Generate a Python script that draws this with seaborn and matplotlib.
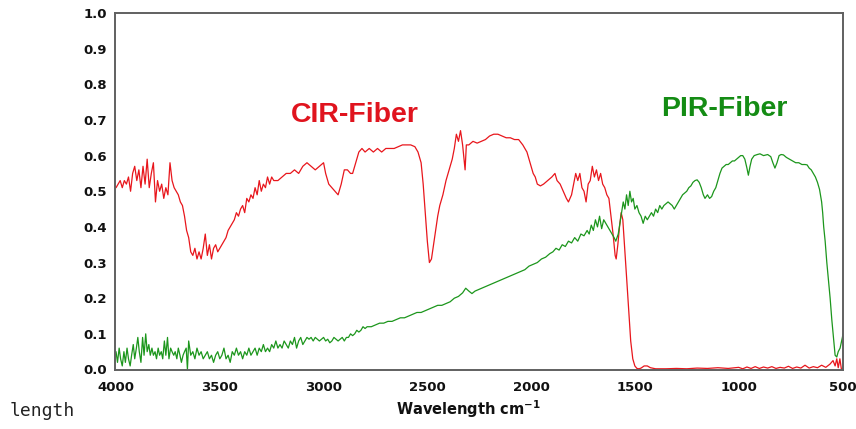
import matplotlib
matplotlib.use("Agg")
import matplotlib.pyplot as plt
import seaborn as sns

# CIR-Fiber spectrum (wavenumber cm-1, transmission)
cir_wn = [4000, 3990, 3980, 3970, 3960, 3950, 3940, 3930, 3920, 3910,
          3900, 3890, 3880, 3870, 3860, 3850, 3840, 3830, 3820, 3810,
          3800, 3790, 3780, 3770, 3760, 3750, 3740, 3730, 3720, 3710,
          3700, 3690, 3680, 3670, 3660, 3650, 3640, 3630, 3620, 3610,
          3600, 3590, 3580, 3570, 3560, 3550, 3540, 3530, 3520, 3510,
          3500, 3490, 3480, 3470, 3460, 3450, 3440, 3430, 3420, 3410,
          3400, 3390, 3380, 3370, 3360, 3350, 3340, 3330, 3320, 3310,
          3300, 3290, 3280, 3270, 3260, 3250, 3240, 3220, 3200, 3180,
          3160, 3140, 3120, 3100, 3080, 3060, 3040, 3020, 3000, 2990,
          2975, 2960, 2945, 2930, 2915, 2900, 2885, 2870, 2860, 2845,
          2830, 2815, 2800, 2780, 2760, 2740, 2720, 2700, 2680, 2660,
          2640, 2620, 2600, 2580, 2560, 2545, 2530, 2520, 2510, 2500,
          2490, 2480, 2470, 2460, 2450, 2440, 2425, 2410, 2395, 2380,
          2370, 2360, 2350, 2340, 2330, 2325, 2318, 2312, 2300, 2280,
          2260, 2240, 2220, 2200, 2180, 2160, 2140, 2120, 2100, 2080,
          2060, 2040, 2020, 2010, 2000, 1990, 1980, 1970, 1955, 1940,
          1920, 1900, 1885, 1875, 1860, 1845, 1830, 1820, 1805, 1795,
          1785, 1775, 1765, 1755, 1745, 1735, 1725, 1715, 1705, 1695,
          1685, 1675, 1665, 1655, 1645, 1635, 1625, 1615, 1605, 1595,
          1590, 1582, 1574, 1566, 1558, 1550, 1540, 1530, 1520, 1510,
          1500, 1490, 1480, 1470, 1455, 1440, 1425, 1400, 1350, 1300,
          1250, 1200, 1150, 1100, 1050, 1000, 980, 960, 940, 920,
          900, 880, 860, 840, 820, 800, 780, 760, 740, 720,
          700, 680, 660, 640, 620, 600, 580, 560, 545, 535,
          527, 520, 512, 505, 497]
cir_t = [.51, .52, .53, .51, .53, .52, .54, .50, .55, .57,
         .53, .56, .51, .57, .52, .59, .51, .55, .58, .47,
         .53, .50, .52, .48, .51, .49, .58, .53, .51, .50,
         .49, .47, .46, .43, .39, .37, .33, .32, .34, .31,
         .33, .31, .34, .38, .32, .35, .31, .34, .35, .33,
         .34, .35, .36, .37, .39, .40, .41, .42, .44, .43,
         .45, .46, .44, .48, .47, .49, .48, .51, .49, .53,
         .50, .52, .51, .54, .52, .54, .53, .53, .54, .55,
         .55, .56, .55, .57, .58, .57, .56, .57, .58, .55,
         .52, .51, .50, .49, .52, .56, .56, .55, .55, .58,
         .61, .62, .61, .62, .61, .62, .61, .62, .62, .62,
         .625, .63, .63, .63, .625, .61, .58, .52, .44, .36,
         .30, .31, .35, .39, .43, .46, .49, .53, .56, .59,
         .62, .66, .64, .67, .63, .60, .56, .63, .63, .64,
         .635, .64, .645, .655, .66, .66, .655, .65, .65, .645,
         .645, .63, .61, .59, .57, .55, .54, .52, .515, .52,
         .53, .54, .55, .53, .52, .50, .48, .47, .49, .52,
         .55, .53, .55, .51, .50, .47, .52, .53, .57, .54,
         .56, .53, .55, .52, .51, .49, .48, .43, .38, .32,
         .31, .35, .40, .44, .42, .35, .26, .17, .08, .03,
         .01, .003, .002, .004, .01, .01, .005, .002, .002, .003,
         .002, .004, .003, .005, .003, .006, .002, .007, .003, .008,
         .003, .007, .004, .008, .003, .006, .004, .009, .003, .007,
         .004, .012, .004, .008, .005, .012, .006, .015, .025, .01,
         .03, .005, .03, .002, .0]

# PIR-Fiber spectrum
pir_wn = [4000, 3993, 3985, 3978, 3970, 3962, 3955, 3947, 3940, 3932,
          3925, 3917, 3910, 3902, 3895, 3888, 3880, 3872, 3865, 3857,
          3850, 3842, 3835, 3827, 3820, 3812, 3805, 3797, 3790, 3782,
          3775, 3767, 3760, 3752, 3745, 3737, 3730, 3722, 3715, 3707,
          3700, 3692, 3685, 3677, 3670, 3662, 3656, 3650, 3640, 3630,
          3620, 3610, 3600, 3590, 3580, 3570, 3560, 3550, 3540, 3530,
          3520, 3510, 3500, 3490, 3480, 3470, 3460, 3450, 3440, 3430,
          3420, 3410, 3400, 3390, 3380, 3370, 3360, 3350, 3340, 3330,
          3320, 3310, 3300, 3290, 3280, 3270, 3260, 3250, 3240, 3230,
          3220, 3210, 3200, 3190, 3180, 3170, 3160, 3150, 3140, 3130,
          3120, 3110, 3100, 3090, 3080, 3070, 3060, 3050, 3040, 3030,
          3020, 3010, 3000, 2990, 2980, 2970, 2960, 2950, 2940, 2930,
          2920, 2910, 2900, 2890, 2880, 2870, 2860, 2850, 2840, 2830,
          2820, 2810, 2800, 2790, 2770, 2750, 2730, 2710, 2690, 2670,
          2650, 2630, 2610, 2590, 2570, 2550, 2530, 2510, 2490, 2470,
          2450, 2430, 2410, 2390, 2370, 2350, 2330, 2315, 2300, 2285,
          2270, 2250, 2230, 2210, 2190, 2170, 2150, 2130, 2110, 2090,
          2070, 2050, 2030, 2010, 1990, 1970, 1950, 1930, 1910, 1895,
          1880, 1865, 1850, 1835, 1820, 1805, 1790, 1775, 1760, 1745,
          1730, 1720, 1710, 1700, 1690, 1680, 1670, 1660, 1650, 1640,
          1630, 1620, 1610, 1600, 1592, 1580, 1572, 1564, 1556, 1548,
          1540, 1532, 1524, 1516, 1508, 1500, 1490, 1480, 1470, 1460,
          1450, 1440, 1430, 1420, 1410, 1400, 1390, 1380, 1370, 1360,
          1350, 1340, 1330, 1320, 1310, 1300, 1290, 1280, 1270, 1260,
          1250, 1240, 1230, 1220, 1210, 1200, 1190, 1180, 1170, 1162,
          1150, 1140, 1130, 1120, 1110, 1100, 1090, 1080, 1070, 1060,
          1050, 1040, 1030, 1020, 1010, 1000, 990, 980, 970, 960,
          953, 945, 937, 925, 910, 897, 880, 860, 845, 835,
          825, 815, 805, 795, 784, 770, 755, 740, 725, 710,
          695, 680, 670, 660, 650, 640, 630, 620, 610, 600,
          595, 590, 583, 575, 567, 559, 551, 543, 535, 527,
          520, 511, 500, 497]
pir_t = [.05, .02, .06, .03, .01, .05, .02, .06, .03, .01,
         .04, .07, .03, .06, .09, .05, .02, .09, .04, .10,
         .05, .07, .04, .06, .04, .05, .03, .06, .04, .05,
         .03, .08, .04, .09, .03, .06, .05, .04, .05, .03,
         .06, .04, .02, .04, .05, .06, .00, .08, .04, .05,
         .03, .06, .04, .05, .03, .04, .05, .03, .04, .02,
         .04, .05, .03, .04, .06, .03, .04, .02, .05, .04,
         .06, .04, .05, .03, .05, .04, .06, .04, .05, .06,
         .04, .06, .05, .07, .05, .06, .05, .07, .06, .08,
         .06, .07, .06, .08, .07, .06, .08, .07, .09, .06,
         .08, .09, .07, .08, .09, .085, .09, .08, .09, .085,
         .08, .085, .09, .08, .085, .075, .08, .09, .085, .08,
         .085, .09, .08, .09, .09, .10, .095, .10, .11, .105,
         .11, .12, .115, .12, .12, .125, .13, .13, .135, .135,
         .14, .145, .145, .15, .155, .16, .16, .165, .17, .175,
         .18, .18, .185, .19, .20, .205, .215, .228, .22, .213,
         .22, .225, .23, .235, .24, .245, .25, .255, .26, .265,
         .27, .275, .28, .29, .295, .30, .31, .315, .325, .33,
         .34, .335, .35, .345, .36, .355, .37, .36, .38, .375,
         .39, .38, .405, .39, .42, .40, .43, .395, .42, .41,
         .40, .39, .38, .37, .36, .38, .41, .44, .47, .45,
         .49, .46, .50, .47, .48, .45, .46, .44, .43, .41,
         .43, .42, .43, .44, .43, .45, .44, .46, .45, .46,
         .465, .47, .465, .46, .45, .46, .47, .48, .49, .495,
         .50, .51, .515, .525, .53, .532, .525, .51, .49, .48,
         .49, .48, .485, .50, .51, .53, .55, .565, .57, .575,
         .575, .58, .585, .585, .59, .595, .60, .60, .59, .565,
         .545, .57, .59, .60, .603, .605, .60, .603, .597, .58,
         .565, .58, .60, .603, .602, .595, .59, .585, .58, .58,
         .575, .575, .574, .565, .56, .55, .54, .525, .505, .47,
         .44, .40, .36, .30, .25, .20, .14, .09, .04, .035,
         .05, .06, .09, .10]

x_ticks = [4000, 3500, 3000, 2500, 2000, 1500, 1000, 500]
y_ticks = [0.0, 0.1, 0.2, 0.3, 0.4, 0.5, 0.6, 0.7, 0.8, 0.9, 1.0]

sns.set_style("white")
plt.rcParams['font.family'] = ['DejaVu Sans']
plt.rcParams['mathtext.fontset'] = 'dejavusans'

red = '#e8161c'
green = '#1c961c'

fig = plt.figure(figsize=(8.56, 4.29), dpi=100)
ax = fig.add_axes([115 / 856, 1 - 369.5 / 429, (843 - 115) / 856, (369.5 - 13) / 429])

sns.lineplot(x=cir_wn, y=cir_t, ax=ax, color=red, lw=0.9, sort=False, estimator=None)
sns.lineplot(x=pir_wn, y=pir_t, ax=ax, color=green, lw=0.9, sort=False, estimator=None)

ax.set_xlim(4005, 497)
ax.set_ylim(0, 1)
ax.set_xticks(x_ticks)
ax.set_xticklabels([str(t) for t in x_ticks], fontweight='bold')
ax.set_yticks(y_ticks)
ax.set_yticklabels(["%.1f" % t for t in y_ticks], fontweight='bold')
ax.tick_params(axis='both', direction='out', length=4, width=1.2, colors='#606060',
               labelcolor='#111111', labelsize=9.5)
ax.tick_params(axis='x', pad=4)
ax.tick_params(axis='y', pad=2)
for s in ax.spines.values():
    s.set_color('#606060')
    s.set_linewidth(1.4)

ax.text(2850, 0.714, "CIR-Fiber", color='#e0141e', fontsize=20.5, fontweight='bold',
        family='Liberation Sans', ha='center', va='center')
ax.text(1070, 0.731, "PIR-Fiber", color='#148c14', fontsize=20.5, fontweight='bold',
        family='Liberation Sans', ha='center', va='center')

fig.text(468 / 856, 1 - 409 / 429, r"Wavelength cm$^{\mathbf{-1}}$", fontsize=10.5,
         fontweight='bold', ha='center', va='center', color='#111111')
fig.text(10 / 856, 1 - 411 / 429, "length", fontsize=13, family='DejaVu Sans Mono',
         ha='left', va='center', color='#222222')

fig.savefig("out.png", dpi=100, facecolor='white')
